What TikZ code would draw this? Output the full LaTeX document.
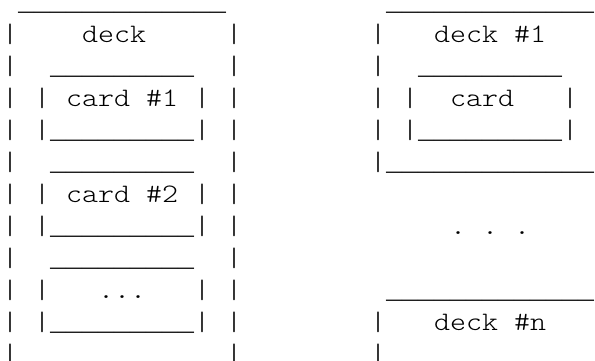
\documentclass[tikz,border=0pt]{standalone}
\usepackage{fontspec}
\setmonofont{lmmonolt10-regular.otf}[FakeStretch=1.142857]
\newfontfamily\rulefont{Liberation Mono}
\tikzset{
  asciirow/.style={anchor=base west, inner sep=0pt, outer sep=0pt,
    font=\ttfamily\fontsize{26.67}{32}\selectfont}
}
\begin{document}
\begin{tikzpicture}[x=16pt,y=32pt]
        \useasboundingbox (-0.125,0.328) rectangle (37.0625,-10.922);

        % Draw the deck holding its cards
        \node[asciirow] (left0) at (1, 0) {{\rulefont\_\_\_\_\_\_\_\_\_\_\_\_\_}};
        \node[asciirow] (left1) at (0, -1) {|~~~~deck~~~~~|};
        \node[asciirow] (left2) at (0, -2) {|~~{\rulefont\_\_\_\_\_\_\_\_\_}~~|};
        \node[asciirow] (left3) at (0, -3) {|~|~card~\#1~|~|};
        \node[asciirow] (left4) at (0, -4) {|~|{\rulefont\_\_\_\_\_\_\_\_\_}|~|};
        \node[asciirow] (left5) at (0, -5) {|~~{\rulefont\_\_\_\_\_\_\_\_\_}~~|};
        \node[asciirow] (left6) at (0, -6) {|~|~card~\#2~|~|};
        \node[asciirow] (left7) at (0, -7) {|~|{\rulefont\_\_\_\_\_\_\_\_\_}|~|};
        \node[asciirow] (left8) at (0, -8) {|~~{\rulefont\_\_\_\_\_\_\_\_\_}~~|};
        \node[asciirow] (left9) at (0, -9) {|~|~~~...~~~|~|};
        \node[asciirow] (left10) at (0, -10) {|~|{\rulefont\_\_\_\_\_\_\_\_\_}|~|};
        \node[asciirow] (left11) at (0, -11) {|~~~~~~~~~~~~~|};

        % Draw the first deck with one card
        \node[asciirow] (right0) at (24, 0) {{\rulefont\_\_\_\_\_\_\_\_\_\_\_\_\_}};
        \node[asciirow] (right1) at (23, -1) {|~~~deck~\#1};
        \node[asciirow] (right2) at (23, -2) {|~~{\rulefont\_\_\_\_\_\_\_\_\_}};
        \node[asciirow] (right3) at (23, -3) {|~|~~card~~~|};
        \node[asciirow] (right4) at (23, -4) {|~|{\rulefont\_\_\_\_\_\_\_\_\_}|};
        \node[asciirow] (right5) at (23, -5) {|{\rulefont\_\_\_\_\_\_\_\_\_\_\_\_\_}};

        % Draw the gap between the decks
        \node[asciirow] (right7) at (28, -7) {.~.~.};

        % Draw the last deck
        \node[asciirow] (right9) at (24, -9) {{\rulefont\_\_\_\_\_\_\_\_\_\_\_\_\_}};
        \node[asciirow] (right10) at (23, -10) {|~~~deck~\#n};
        \node[asciirow] (right11) at (23, -11) {|};
    \end{tikzpicture}
\end{document}
